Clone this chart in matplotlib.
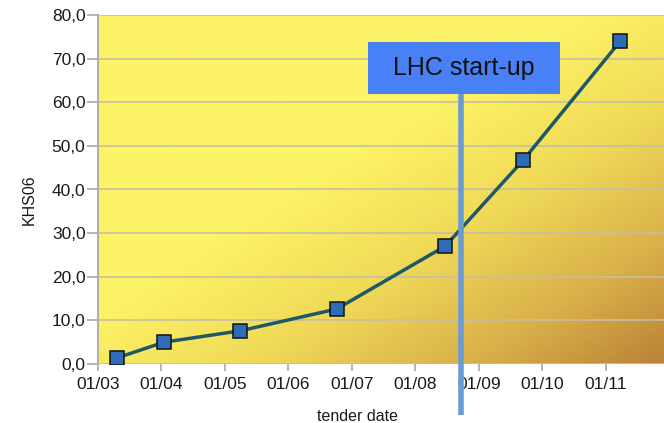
"""Computing capacity acquired per tender, with the LHC start-up marked."""

import matplotlib
matplotlib.use("Agg")
import matplotlib.pyplot as plt
import numpy as np
from matplotlib.colors import LinearSegmentedColormap
from matplotlib.patches import Rectangle

plt.rcParams["font.family"] = ["Liberation Sans", "DejaVu Sans"]

# tender dates (month index on the axis) and capacity in KHS06
tender_x = [3.30, 4.04, 5.24, 6.76, 8.47, 9.70, 11.23]
khs06 = [1.4, 5.0, 7.6, 12.6, 27.0, 46.7, 74.0]

x_ticks = [3, 4, 5, 6, 7, 8, 9, 10, 11]
x_tick_labels = ["01/03", "01/04", "01/05", "01/06", "01/07",
                 "01/08", "01/09", "01/10", "01/11"]
y_ticks = [0, 10, 20, 30, 40, 50, 60, 70, 80]
y_tick_labels = ["0,0", "10,0", "20,0", "30,0", "40,0",
                 "50,0", "60,0", "70,0", "80,0"]

lhc_startup_x = 8.72
lhc_label = "LHC start-up"

fig = plt.figure(figsize=(6.64, 4.23), dpi=100)
ax = fig.add_axes([98 / 664, 1 - 364 / 423, 566 / 664, 349 / 423])

x_min, x_max = 3.0, 11.92
y_min, y_max = 0.0, 80.0

# yellow -> brown diagonal gradient behind the plot
cmap = LinearSegmentedColormap.from_list(
    "bg", [(0.0, "#fdf366"), (0.35, "#f0da58"), (0.7, "#d9b04a"), (1.0, "#bb8236")])
u, v = np.meshgrid(np.linspace(0, 1, 300), np.linspace(0, 1, 200))
s = np.clip((u + v - 0.85) / 1.15, 0, 1)
ax.imshow(s, cmap=cmap, vmin=0, vmax=1, aspect="auto", origin="upper",
          extent=[x_min, x_max, y_min, y_max], zorder=0, interpolation="bilinear")

ax.set_xlim(x_min, x_max)
ax.set_ylim(y_min, y_max)

for yt in y_ticks:
    ax.axhline(yt, color="#c6bea4", lw=1.2, zorder=1)

ax.plot(tender_x, khs06, color="#1f5868", lw=2.5, zorder=3,
        marker="s", markersize=9.5, markerfacecolor="#2e6cb8",
        markeredgecolor="#111111", markeredgewidth=1.1)

# LHC start-up marker: vertical bar with a label box on top
ax.plot([lhc_startup_x, lhc_startup_x], [62.0, -11.8], color="#6a9cd2",
        lw=4, zorder=4, clip_on=False, solid_capstyle="butt")
box_w, box_h = 3.03, 11.9
box_left = lhc_startup_x - 1.47
ax.add_patch(Rectangle((box_left, 61.8), box_w, box_h, facecolor="#4a80f6",
                       edgecolor="none", zorder=5))
ax.text(box_left + box_w / 2, 61.8 + box_h / 2, lhc_label, ha="center",
        va="center", fontsize=18, color="#111111", zorder=6)

ax.set_xticks(x_ticks)
ax.set_xticklabels(x_tick_labels)
ax.set_yticks(y_ticks)
ax.set_yticklabels(y_tick_labels)
ax.tick_params(axis="y", length=8, width=1.2, color="#a8a8a8", pad=1,
               labelsize=12.5, labelcolor="#1a1a1a")
ax.tick_params(axis="x", length=5, width=1.2, color="#a8a8a8", pad=4,
               labelsize=12.5, labelcolor="#1a1a1a")

for side in ["top", "right", "bottom"]:
    ax.spines[side].set_visible(False)
ax.spines["left"].set_color("#b0b0b0")
ax.spines["left"].set_linewidth(1.5)

ax.set_ylabel("KHS06", fontsize=11.5, color="#1a1a1a")
ax.yaxis.set_label_coords(-0.108, 0.47)
ax.set_xlabel("tender date", fontsize=11.5, color="#1a1a1a")
ax.xaxis.set_label_coords(0.458, -0.13)

fig.savefig("out.png", dpi=100)
